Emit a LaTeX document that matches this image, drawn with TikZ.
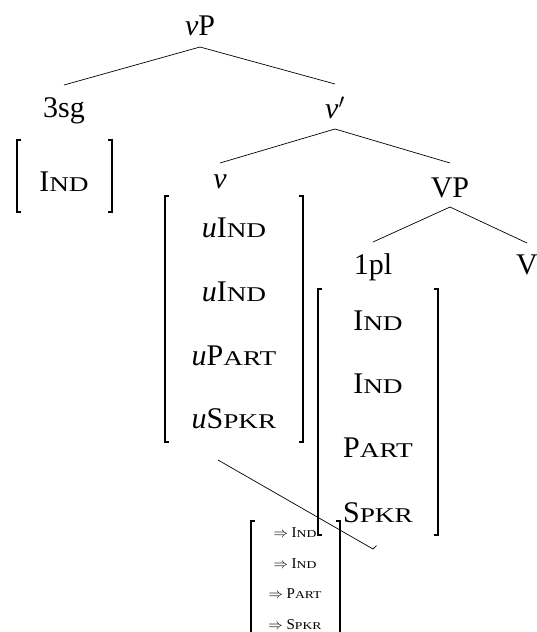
\documentclass[tikz,border=0pt]{standalone}
\usepackage{fontspec}
\setmainfont{Liberation Serif}
\newfontfamily\scfont[FakeStretch=1.3]{Liberation Serif}
\newcommand\bigsc[2]{#1{\scfont\fontsize{21}{21}\selectfont #2}}
\newcommand\smsc[2]{#1{\scfont\fontsize{10.5}{10.5}\selectfont #2}}
\newcommand\brk[1]{%
  \draw[brk] ([xshift=4pt]#1.north west) -- (#1.north west) -- (#1.south west) -- ([xshift=4pt]#1.south west);
  \draw[brk] ([xshift=-4pt]#1.north east) -- (#1.north east) -- (#1.south east) -- ([xshift=-4pt]#1.south east);}
\tikzset{
  big/.style={anchor=base, inner sep=0pt, font=\fontsize{30}{30}\selectfont},
  sml/.style={anchor=base, inner sep=0pt, font=\fontsize{15}{15}\selectfont},
  frame/.style={inner sep=0pt, outer sep=0pt, draw=none},
  branch/.style={line width=0.7pt},
  brk/.style={line width=1.1pt}
}
\begin{document}
\begin{tikzpicture}[x=1pt,y=-1pt]
\useasboundingbox (0,0) rectangle (537,632);
% tree labels
\node[big] (vP) at (200,35) {\textit{v}P};
\node[big] (sg) at (64,117) {3sg};
\node[big] (vbar) at (335,118) {\textit{v}$'$};
\node[big] (v) at (220,188) {\textit{v}};
\node[big] (VP) at (450,197) {VP};
\node[big] (pl) at (373,274) {1pl};
\node[big] (V) at (527,274) {V};
% branches
\draw[branch] ([yshift=-12pt]vP.base) -- ([yshift=32pt]sg.base);
\draw[branch] ([yshift=-12pt]vP.base) -- ([yshift=34pt]vbar.base);
\draw[branch] ([yshift=-11pt]vbar.base) -- ([yshift=25pt]v.base);
\draw[branch] ([yshift=-11pt]vbar.base) -- ([yshift=34pt]VP.base);
\draw[branch] ([yshift=-10pt]VP.base) -- ([yshift=32pt]pl.base);
\draw[branch] ([yshift=-10pt]VP.base) -- ([yshift=31pt]V.base);
% matrix frames
\node[frame, minimum width=95pt, minimum height=72pt] (m1) at (64.5,176) {};
\node[frame, minimum width=138pt, minimum height=246pt] (m2) at (234,319) {};
\node[frame, minimum width=120pt, minimum height=246pt] (m3) at (378,412) {};
\node[frame, minimum width=89pt, minimum height=139pt] (m4) at (295.5,590.5) {};
\brk{m1}
\brk{m2}
\brk{m3}
\brk{m4}
% matrix contents
\node[big] (a1) at (64,191) {\bigsc{I}{ND}};
\node[big] (b1) at (234,237) {\textit{u}\bigsc{I}{ND}};
\node[big] (b2) at (234,301) {\textit{u}\bigsc{I}{ND}};
\node[big] (b3) at (234,365) {\textit{u}\bigsc{P}{ART}};
\node[big] (b4) at (234,428) {\textit{u}\bigsc{S}{PKR}};
\node[big] (c1) at (378,330) {\bigsc{I}{ND}};
\node[big] (c2) at (378,393) {\bigsc{I}{ND}};
\node[big] (c3) at (378,457) {\bigsc{P}{ART}};
\node[big] (c4) at (378,522) {\bigsc{S}{PKR}};
\node[sml] (d1) at (295,537) {$\Rightarrow$ \smsc{I}{ND}};
\node[sml] (d2) at (295,568) {$\Rightarrow$ \smsc{I}{ND}};
\node[sml] (d3) at (295,598) {$\Rightarrow$ \smsc{P}{ART}};
\node[sml] (d4) at (295,629) {$\Rightarrow$ \smsc{S}{PKR}};
% diagonal connector
\coordinate (tip) at (373,549);
\draw[branch] ([xshift=-16pt,yshift=-18pt]m2.south) -- (tip) -- ++(3.5,-3.5);
\end{tikzpicture}
\end{document}
